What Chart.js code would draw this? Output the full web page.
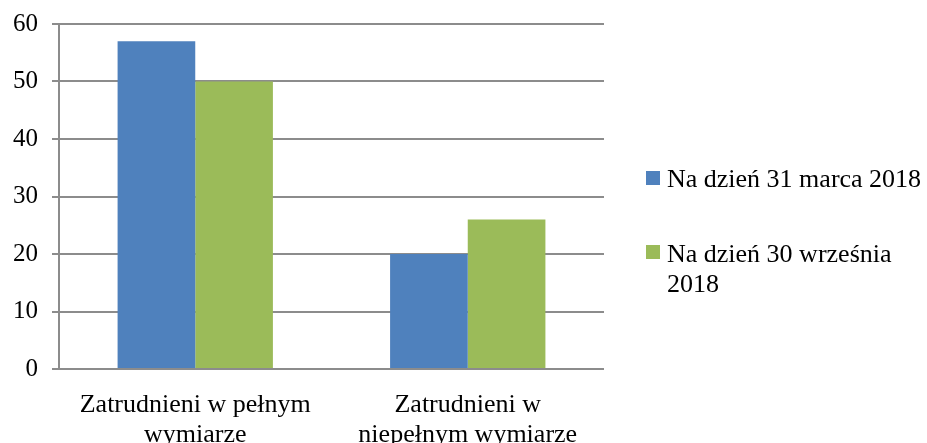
<!DOCTYPE html>
<html>
<head>
<meta charset="utf-8">
<script src="https://cdn.jsdelivr.net/npm/chart.js@4/dist/chart.umd.min.js"></script>
<style>
  html, body { margin: 0; padding: 0; background: #fff; }
  #wrap { width: 927px; height: 443px; }
</style>
</head>
<body>
<div id="wrap"><canvas id="wykres" width="927" height="443"></canvas></div>
<script>
// dane
const kategorie = [
  ['Zatrudnieni w pełnym', 'wymiarze'],
  ['Zatrudnieni w', 'niepełnym wymiarze']
];
const serieNazwy = [['Na dzień 31 marca 2018'], ['Na dzień 30 września', '2018']];
const marzec = [57, 20];
const wrzesien = [50, 26];
const osY = { min: 0, max: 60, krok: 10 };

const kolory = ['#4F81BD', '#9BBB59'];
const czcionka = '"Liberation Serif", "Times New Roman", serif';

// legenda rysowana recznie (tekst w dwoch liniach)
const legendaPlugin = {
  id: 'legendaReczna',
  afterDraw(chart) {
    const ctx = chart.ctx;
    const pozycje = [{ kw: 171, linia: 187 }, { kw: 245, linia: 262 }];
    ctx.save();
    ctx.font = '26px ' + czcionka;
    ctx.textBaseline = 'alphabetic';
    chart.data.datasets.forEach((ds, i) => {
      const p = pozycje[i];
      ctx.fillStyle = ds.backgroundColor;
      ctx.fillRect(646, p.kw, 14, 14);
      ctx.fillStyle = '#000';
      serieNazwy[i].forEach((t, j) => {
        ctx.fillText(t, 667, p.linia + j * 30);
      });
    });
    ctx.restore();
  }
};

const chart = new Chart(document.getElementById('wykres').getContext('2d'), {
  type: 'bar',
  data: {
    labels: kategorie,
    datasets: [
      { label: serieNazwy[0].join(' '), data: marzec, backgroundColor: kolory[0] },
      { label: serieNazwy[1].join(' '), data: wrzesien, backgroundColor: kolory[1] }
    ]
  },
  options: {
    responsive: false,
    animation: false,
    layout: { padding: { left: 0, right: 323, top: 24, bottom: 0 } },
    datasets: {
      bar: { categoryPercentage: 0.57, barPercentage: 1.0 }
    },
    plugins: {
      legend: { display: false },
      tooltip: { enabled: false }
    },
    scales: {
      x: {
        grid: { display: false, drawTicks: false },
        border: { display: false },
        ticks: {
          color: '#000',
          font: { family: czcionka, size: 26, lineHeight: 1.15 },
          padding: 21,
          maxRotation: 0,
          autoSkip: false
        },
        afterFit: s => { s.height = 74; }
      },
      y: {
        min: osY.min,
        max: osY.max,
        grid: { color: '#8c8c8c', lineWidth: 2, tickLength: 7 },
        border: { display: true, color: '#8c8c8c', width: 2 },
        ticks: {
          stepSize: osY.krok,
          color: '#000',
          font: { family: czcionka, size: 25 },
          padding: 14
        },
        afterFit: s => { s.width = 59; s.paddingTop = 0; s.paddingBottom = 0; }
      }
    }
  },
  plugins: [legendaPlugin]
});
</script>
</body>
</html>
